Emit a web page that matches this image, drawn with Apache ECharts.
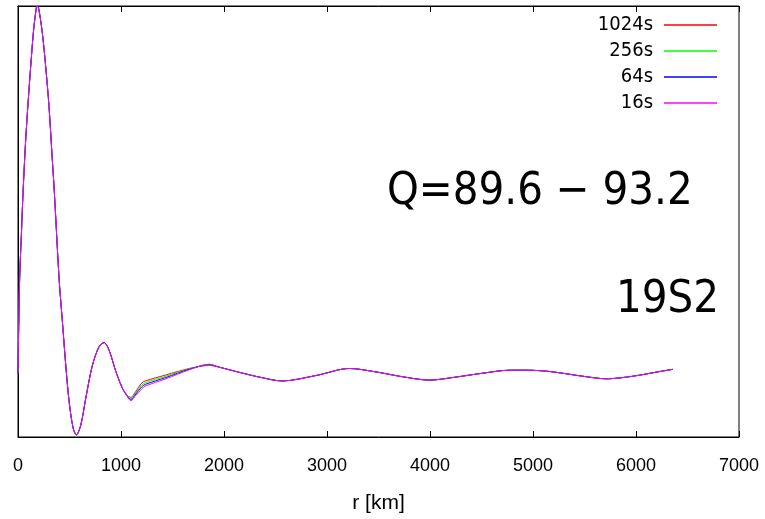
<!DOCTYPE html>
<html>
<head>
<meta charset="utf-8">
<script src="https://cdn.jsdelivr.net/npm/echarts@6/dist/echarts.min.js"></script>
<style>html,body{margin:0;padding:0;background:#fff}#c{width:765px;height:519px}</style>
</head>
<body>
<div id="c"></div>
<script>
// radius [km]
const rKm = [0,16,34,49,75,100,123,149,170,185,
  200,236,269,301,333,353,399,431,464,496,
  535,567,610,658,722,788,836,885,950,1014,
  1063,1096,1144,1200,1235,1436,1663,1857,1954,2149,
  2343,2567,2900,3218,3500,3704,3996,4250,4511,4774,
  4938,5162,5484,5714,5969,6232,6358];

// profile values (arbitrary units) per time
const y1024 = [0.148,0.367,0.476,0.568,0.691,0.783,0.859,0.938,0.982,1.000,
  0.995,0.938,0.859,0.767,0.644,0.568,0.367,0.268,0.166,0.083,
  0.021,0.005,0.028,0.090,0.166,0.210,0.219,0.201,0.152,0.113,
  0.096,0.092,0.106,0.125,0.130,0.144,0.159,0.166,0.162,0.150,
  0.139,0.130,0.143,0.159,0.150,0.141,0.132,0.139,0.148,0.155,
  0.155,0.152,0.141,0.135,0.141,0.152,0.157];
const y256 = [0.148,0.367,0.476,0.568,0.691,0.783,0.859,0.938,0.982,1.000,
  0.995,0.938,0.859,0.767,0.644,0.568,0.367,0.268,0.166,0.083,
  0.021,0.005,0.028,0.090,0.166,0.210,0.219,0.201,0.152,0.113,
  0.095,0.090,0.103,0.120,0.126,0.141,0.158,0.167,0.162,0.150,
  0.139,0.130,0.143,0.159,0.150,0.141,0.132,0.139,0.148,0.155,
  0.155,0.152,0.141,0.135,0.141,0.152,0.157];
const y64 = [0.148,0.367,0.476,0.568,0.691,0.783,0.859,0.938,0.982,1.000,
  0.995,0.938,0.859,0.767,0.644,0.568,0.367,0.268,0.166,0.083,
  0.021,0.005,0.028,0.090,0.166,0.210,0.219,0.201,0.152,0.113,
  0.094,0.087,0.100,0.116,0.122,0.138,0.157,0.168,0.162,0.150,
  0.139,0.130,0.143,0.159,0.150,0.141,0.132,0.139,0.148,0.155,
  0.155,0.152,0.141,0.135,0.141,0.152,0.157];
const y16 = [0.148,0.367,0.476,0.568,0.691,0.783,0.859,0.938,0.982,1.000,
  0.995,0.938,0.859,0.767,0.644,0.568,0.367,0.268,0.166,0.083,
  0.021,0.005,0.028,0.090,0.166,0.210,0.219,0.201,0.152,0.113,
  0.093,0.084,0.097,0.111,0.118,0.135,0.156,0.169,0.162,0.150,
  0.139,0.130,0.143,0.159,0.150,0.141,0.132,0.139,0.148,0.155,
  0.155,0.152,0.141,0.135,0.141,0.152,0.157];

const seriesNames = ['1024s','256s','64s','16s'];
const seriesValues = [y1024, y256, y64, y16];
const seriesColors = ['#ff0000','#00ff00','#0000ff','#ff00ff'];
const xTicks = [0,1000,2000,3000,4000,5000,6000,7000];
const xLabel = 'r [km]';
const noteQ = 'Q=89.6 \u2212 93.2';
const noteModel = '19S2';

const chart = echarts.init(document.getElementById('c'), null, {renderer:'canvas'});
const series = seriesNames.map((name, i) => ({
  name: name,
  type: 'line',
  data: rKm.map((r, j) => [r, seriesValues[i][j]]),
  symbol: 'none',
  smooth: 0.3,
  color: seriesColors[i],
  lineStyle: {color: seriesColors[i], width: 1},
  z: 2 + i
}));

const axisCommon = {
  type: 'value',
  min: xTicks[0],
  max: xTicks[xTicks.length - 1],
  interval: 1000,
  splitLine: {show: false},
  axisLine: {show: true, lineStyle: {color: '#000', width: 1}},
  axisTick: {show: true, inside: true, length: 6, lineStyle: {color: '#000', width: 1}}
};

chart.setOption({
  animation: false,
  backgroundColor: '#fff',
  grid: {left: 18, right: 26, top: 6, bottom: 76, show: true, borderColor: '#000', borderWidth: 1},
  xAxis: [
    Object.assign({}, axisCommon, {
      position: 'bottom',
      axisLabel: {color: '#000', fontSize: 18, fontFamily: 'Liberation Sans, Arial, sans-serif', margin: 20,
        formatter: v => String(v)},
      name: xLabel,
      nameLocation: 'middle',
      nameGap: 56,
      nameTextStyle: {color: '#000', fontSize: 21, fontFamily: 'Liberation Sans, Arial, sans-serif'}
    }),
    Object.assign({}, axisCommon, {
      position: 'top',
      axisLabel: {show: false}
    })
  ],
  yAxis: [{
    type: 'value', min: 0, max: 1,
    axisLine: {show: true, lineStyle: {color: '#000'}},
    axisTick: {show: false}, axisLabel: {show: false}, splitLine: {show: false}
  }],
  legend: {
    data: seriesNames,
    orient: 'vertical',
    right: 43,
    top: 10,
    align: 'right',
    icon: 'rect',
    itemWidth: 53,
    itemHeight: 1.5,
    itemGap: 6,
    textStyle: {color: '#000', fontSize: 20, fontFamily: 'DejaVu Sans Condensed, DejaVu Sans, sans-serif', padding: [0, 6, 0, 0]}
  },
  graphic: [
    {type: 'text', left: 387, top: 188.5 - 19, z: 10,
     style: {text: noteQ, fontSize: 45, fontFamily: 'DejaVu Sans Condensed, DejaVu Sans, sans-serif', fill: '#000'}},
    {type: 'text', left: 616, top: 297.5 - 20, z: 10,
     style: {text: noteModel, fontSize: 45, fontFamily: 'DejaVu Sans Condensed, DejaVu Sans, sans-serif', fill: '#000'}}
  ],
  series: series
});
</script>
</body>
</html>
